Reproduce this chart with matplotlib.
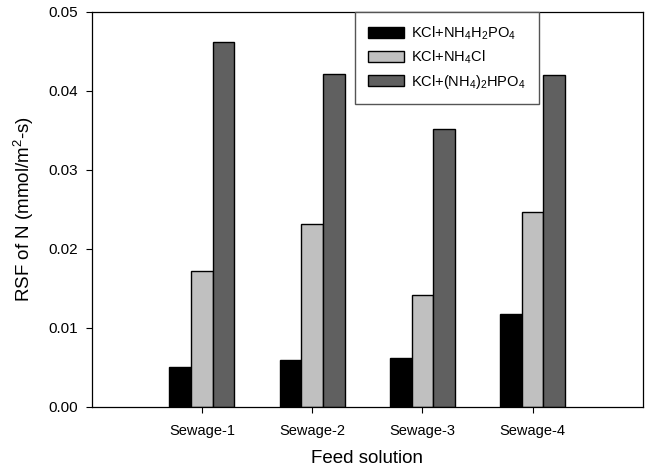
import matplotlib

matplotlib.use("Agg")

import matplotlib.pyplot as plt
import numpy as np

plt.rcParams["font.family"] = ["Liberation Sans", "DejaVu Sans"]
plt.rcParams["mathtext.default"] = "regular"

CATEGORIES = ["Sewage-1", "Sewage-2", "Sewage-3", "Sewage-4"]
SERIES_LABELS = [
    "KCl+NH$_4$H$_2$PO$_4$",
    "KCl+NH$_4$Cl",
    "KCl+(NH$_4$)$_2$HPO$_4$",
]
NH4H2PO4 = [0.0051, 0.0060, 0.0062, 0.0118]
NH4CL = [0.0172, 0.0231, 0.0142, 0.0246]
NH4_2HPO4 = [0.0461, 0.0421, 0.0351, 0.0420]
COLORS = ["#000000", "#c0c0c0", "#606060"]
Y_TICKS = [0.00, 0.01, 0.02, 0.03, 0.04, 0.05]


def main() -> None:
    fig = plt.figure(figsize=(6.5, 4.74), dpi=100)
    ax = fig.add_axes([0.141, 0.1414, 0.848, 0.8343])

    x = np.arange(1, len(CATEGORIES) + 1)
    width = 0.197
    for i, (values, label, color) in enumerate(zip([NH4H2PO4, NH4CL, NH4_2HPO4], SERIES_LABELS, COLORS)):
        ax.bar(x + (i - 1) * width, values, width, color=color, edgecolor="black",
               linewidth=1.0, label=label, zorder=2)

    ax.set_xlim(0, len(CATEGORIES) + 1)
    ax.set_ylim(0, 0.05)
    ax.set_xticks(x)
    ax.set_xticklabels(CATEGORIES)
    ax.set_yticks(Y_TICKS)
    ax.set_yticklabels([f"{v:.2f}" for v in Y_TICKS])
    ax.tick_params(axis="both", direction="out", length=4, width=0.8, labelsize=11, pad=5.5)
    ax.tick_params(axis="x", labelsize=10.5, pad=8)
    for side in ["left", "right", "top", "bottom"]:
        ax.spines[side].set_linewidth(0.9)
        ax.spines[side].set_color("black")

    ax.set_xlabel("Feed solution", fontsize=13.5, labelpad=9)
    ax.set_ylabel("RSF of N (mmol/m$^2$-s)", fontsize=13.5, labelpad=9)

    leg = ax.legend(loc="upper left", bbox_to_anchor=(0.4776, 1.0), fontsize=10.5,
                    frameon=True, fancybox=False, framealpha=1, edgecolor="#555555",
                    handlelength=2.45, handleheight=0.8, labelspacing=0.45,
                    borderpad=0.9, handletextpad=0.5, borderaxespad=0)
    leg.get_frame().set_linewidth(1.0)

    fig.savefig("out.png", dpi=100)
    plt.close(fig)


if __name__ == "__main__":
    main()
